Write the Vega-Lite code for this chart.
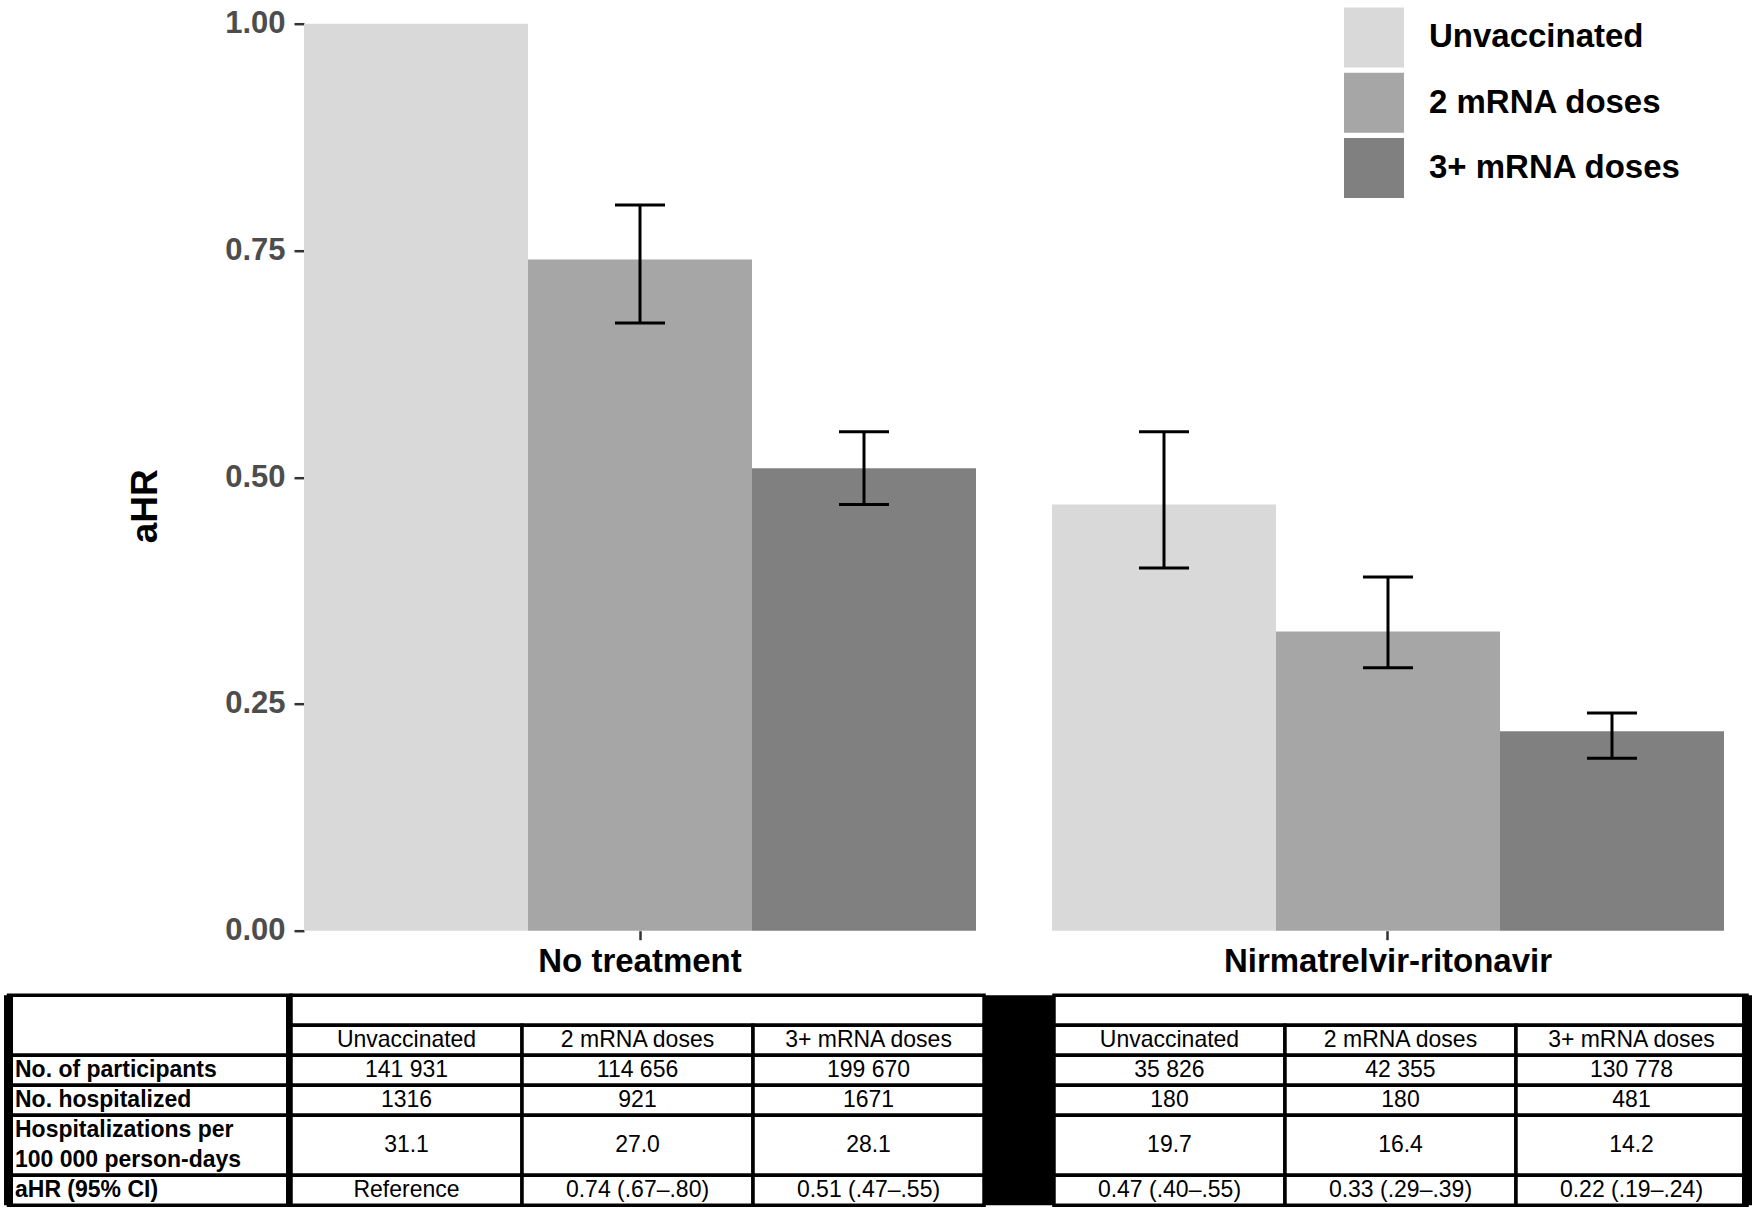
{
  "$schema": "https://vega.github.io/schema/vega-lite/v6.json",
  "padding": {"left": 4, "top": 6.7, "right": 0, "bottom": 0},
  "bounds": "flush",
  "spacing": 64.5,
  "resolve": {"scale": {"xOffset": "independent", "color": "independent"}},
  "config": {
    "view": {"stroke": null},
    "font": "Liberation Sans"
  },
  "datasets": {
    "bars": [
      {"treatment": "No treatment", "vacc": "Unvaccinated", "ahr": 1.0, "lo": null, "hi": null},
      {"treatment": "No treatment", "vacc": "2 mRNA doses", "ahr": 0.74, "lo": 0.67, "hi": 0.80},
      {"treatment": "No treatment", "vacc": "3+ mRNA doses", "ahr": 0.51, "lo": 0.47, "hi": 0.55},
      {"treatment": "Nirmatrelvir-ritonavir", "vacc": "Unvaccinated", "ahr": 0.47, "lo": 0.40, "hi": 0.55},
      {"treatment": "Nirmatrelvir-ritonavir", "vacc": "2 mRNA doses", "ahr": 0.33, "lo": 0.29, "hi": 0.39},
      {"treatment": "Nirmatrelvir-ritonavir", "vacc": "3+ mRNA doses", "ahr": 0.22, "lo": 0.19, "hi": 0.24}
    ],
    "heads": [
      {"grp": "No treatment", "ys": "hdr", "ye": "hdr"},
      {"grp": "Nirmatrelvir-ritonavir", "ys": "hdr", "ye": "hdr"}
    ],
    "cells": [
      {"grp": "No treatment", "vacc": "Unvaccinated", "ys": "sub", "ye": "sub", "t": "Unvaccinated"},
      {"grp": "No treatment", "vacc": "2 mRNA doses", "ys": "sub", "ye": "sub", "t": "2 mRNA doses"},
      {"grp": "No treatment", "vacc": "3+ mRNA doses", "ys": "sub", "ye": "sub", "t": "3+ mRNA doses"},
      {"grp": "No treatment", "vacc": "Unvaccinated", "ys": "part", "ye": "part", "t": "141 931"},
      {"grp": "No treatment", "vacc": "2 mRNA doses", "ys": "part", "ye": "part", "t": "114 656"},
      {"grp": "No treatment", "vacc": "3+ mRNA doses", "ys": "part", "ye": "part", "t": "199 670"},
      {"grp": "No treatment", "vacc": "Unvaccinated", "ys": "hospn", "ye": "hospn", "t": "1316"},
      {"grp": "No treatment", "vacc": "2 mRNA doses", "ys": "hospn", "ye": "hospn", "t": "921"},
      {"grp": "No treatment", "vacc": "3+ mRNA doses", "ys": "hospn", "ye": "hospn", "t": "1671"},
      {"grp": "No treatment", "vacc": "Unvaccinated", "ys": "hA", "ye": "hB", "t": "31.1"},
      {"grp": "No treatment", "vacc": "2 mRNA doses", "ys": "hA", "ye": "hB", "t": "27.0"},
      {"grp": "No treatment", "vacc": "3+ mRNA doses", "ys": "hA", "ye": "hB", "t": "28.1"},
      {"grp": "No treatment", "vacc": "Unvaccinated", "ys": "ahr", "ye": "ahr", "t": "Reference"},
      {"grp": "No treatment", "vacc": "2 mRNA doses", "ys": "ahr", "ye": "ahr", "t": "0.74 (.67–.80)"},
      {"grp": "No treatment", "vacc": "3+ mRNA doses", "ys": "ahr", "ye": "ahr", "t": "0.51 (.47–.55)"},
      {"grp": "Nirmatrelvir-ritonavir", "vacc": "Unvaccinated", "ys": "sub", "ye": "sub", "t": "Unvaccinated"},
      {"grp": "Nirmatrelvir-ritonavir", "vacc": "2 mRNA doses", "ys": "sub", "ye": "sub", "t": "2 mRNA doses"},
      {"grp": "Nirmatrelvir-ritonavir", "vacc": "3+ mRNA doses", "ys": "sub", "ye": "sub", "t": "3+ mRNA doses"},
      {"grp": "Nirmatrelvir-ritonavir", "vacc": "Unvaccinated", "ys": "part", "ye": "part", "t": "35 826"},
      {"grp": "Nirmatrelvir-ritonavir", "vacc": "2 mRNA doses", "ys": "part", "ye": "part", "t": "42 355"},
      {"grp": "Nirmatrelvir-ritonavir", "vacc": "3+ mRNA doses", "ys": "part", "ye": "part", "t": "130 778"},
      {"grp": "Nirmatrelvir-ritonavir", "vacc": "Unvaccinated", "ys": "hospn", "ye": "hospn", "t": "180"},
      {"grp": "Nirmatrelvir-ritonavir", "vacc": "2 mRNA doses", "ys": "hospn", "ye": "hospn", "t": "180"},
      {"grp": "Nirmatrelvir-ritonavir", "vacc": "3+ mRNA doses", "ys": "hospn", "ye": "hospn", "t": "481"},
      {"grp": "Nirmatrelvir-ritonavir", "vacc": "Unvaccinated", "ys": "hA", "ye": "hB", "t": "19.7"},
      {"grp": "Nirmatrelvir-ritonavir", "vacc": "2 mRNA doses", "ys": "hA", "ye": "hB", "t": "16.4"},
      {"grp": "Nirmatrelvir-ritonavir", "vacc": "3+ mRNA doses", "ys": "hA", "ye": "hB", "t": "14.2"},
      {"grp": "Nirmatrelvir-ritonavir", "vacc": "Unvaccinated", "ys": "ahr", "ye": "ahr", "t": "0.47 (.40–.55)"},
      {"grp": "Nirmatrelvir-ritonavir", "vacc": "2 mRNA doses", "ys": "ahr", "ye": "ahr", "t": "0.33 (.29–.39)"},
      {"grp": "Nirmatrelvir-ritonavir", "vacc": "3+ mRNA doses", "ys": "ahr", "ye": "ahr", "t": "0.22 (.19–.24)"}
    ],
    "labcells": [
      {"ys": "hdr", "ye": "sub"},
      {"ys": "part", "ye": "part"},
      {"ys": "hospn", "ye": "hospn"},
      {"ys": "hA", "ye": "hB"},
      {"ys": "ahr", "ye": "ahr"}
    ],
    "labels": [
      {"ys": "part", "t": "No. of participants"},
      {"ys": "hospn", "t": "No. hospitalized"},
      {"ys": "hA", "t": "Hospitalizations per"},
      {"ys": "hB", "t": "100 000 person-days"},
      {"ys": "ahr", "t": "aHR (95% CI)"}
    ]
  },
  "vconcat": [
    {
      "data": {"name": "bars"},
      "width": 1433,
      "height": 907,
      "encoding": {
        "x": {
          "field": "treatment", "type": "nominal",
          "scale": {"domain": ["No treatment", "Nirmatrelvir-ritonavir"], "paddingInner": 0.1016, "paddingOuter": 0.00869, "align": 1},
          "axis": {"title": null, "labelAngle": 0, "labelFontSize": 33, "labelFontWeight": "bold", "labelColor": "black", "labelPadding": 6, "labelLimit": 800, "tickSize": 9, "tickWidth": 2.5, "tickColor": "#333333", "domain": false}
        },
        "xOffset": {
          "field": "vacc", "type": "nominal",
          "scale": {"domain": ["Unvaccinated", "2 mRNA doses", "3+ mRNA doses"], "paddingInner": 0, "paddingOuter": 0}
        }
      },
      "layer": [
        {
          "mark": {"type": "bar"},
          "encoding": {
            "y": {
              "field": "ahr", "type": "quantitative", "title": "aHR",
              "scale": {"domain": [0, 1], "nice": false},
              "axis": {"values": [0, 0.25, 0.5, 0.75, 1], "format": ".2f", "grid": false, "domain": false, "tickSize": 10, "tickWidth": 2.5, "tickColor": "#333333", "labelFontSize": 31, "labelFontWeight": "bold", "labelColor": "#4d4d4d", "labelPadding": 9, "offset": -13, "titleFontSize": 37, "titleFontWeight": "bold", "titleColor": "black", "titlePadding": 60, "titleY": 482}
            },
            "color": {
              "field": "vacc", "type": "nominal",
              "scale": {"domain": ["Unvaccinated", "2 mRNA doses", "3+ mRNA doses"], "range": ["#d9d9d9", "#a6a6a6", "#808080"]},
              "legend": {"title": null, "orient": "none", "legendX": 1053, "legendY": -16.3, "symbolType": "square", "symbolSize": 3600, "symbolStrokeWidth": 0, "labelFontSize": 33, "labelFontWeight": "bold", "labelColor": "black", "labelOffset": 25, "labelLimit": 800, "rowPadding": 5.3, "padding": 0}
            }
          }
        },
        {
          "transform": [{"filter": "datum.lo != null"}],
          "mark": {"type": "rule", "color": "black", "strokeWidth": 3},
          "encoding": {
            "y": {"field": "lo", "type": "quantitative", "title": "aHR"},
            "y2": {"field": "hi"}
          }
        },
        {
          "transform": [{"filter": "datum.lo != null"}],
          "mark": {"type": "tick", "color": "black", "thickness": 3, "size": 50, "opacity": 1},
          "encoding": {
            "y": {"field": "lo", "type": "quantitative", "title": "aHR"}
          }
        },
        {
          "transform": [{"filter": "datum.hi != null"}],
          "mark": {"type": "tick", "color": "black", "thickness": 3, "size": 50, "opacity": 1},
          "encoding": {
            "y": {"field": "hi", "type": "quantitative", "title": "aHR"}
          }
        }
      ]
    },
    {
      "width": 1456,
      "height": 210,
      "view": {"fill": "black", "stroke": null},
      "resolve": {"scale": {"x": "independent"}},
      "layer": [
        {
          "layer": [
            {
              "data": {"name": "labcells"},
              "mark": {"type": "rect", "fill": "white", "stroke": "black", "strokeWidth": 3.5},
              "encoding": {
                "x": {"datum": "lab", "type": "nominal", "scale": {"domain": ["lab"], "range": [-282.5, 0], "paddingInner": 0, "paddingOuter": 0}, "axis": null},
                "y": {"field": "ys", "type": "nominal", "bandPosition": 0, "scale": {"domain": ["hdr", "sub", "part", "hospn", "hA", "hB", "ahr"], "paddingInner": 0, "paddingOuter": 0}, "axis": null},
                "y2": {"field": "ye", "bandPosition": 1}
              }
            },
            {
              "data": {"name": "labels"},
              "mark": {"type": "text", "align": "left", "baseline": "middle", "dx": 6.5, "fontSize": 23, "fontWeight": "bold", "color": "black"},
              "encoding": {
                "x": {"datum": "lab", "type": "nominal", "bandPosition": 0},
                "y": {"field": "ys", "type": "nominal"},
                "text": {"field": "t"}
              }
            },
            {
              "data": {"values": [{"side": 0}]},
              "mark": {"type": "rule", "color": "black", "strokeWidth": 9},
              "encoding": {
                "x": {"datum": "lab", "type": "nominal", "bandPosition": 0},
                "y": {"datum": "hdr", "type": "nominal", "bandPosition": 0},
                "y2": {"datum": "ahr", "bandPosition": 1}
              }
            },
            {
              "data": {"values": [{"side": 1}]},
              "mark": {"type": "rule", "color": "black", "strokeWidth": 10},
              "encoding": {
                "x": {"datum": "lab", "type": "nominal", "bandPosition": 1},
                "y": {"datum": "hdr", "type": "nominal", "bandPosition": 0},
                "y2": {"datum": "ahr", "bandPosition": 1}
              }
            }
          ]
        },
        {
          "layer": [
            {
              "data": {"name": "heads"},
              "mark": {"type": "rect", "fill": "white", "stroke": "black", "strokeWidth": 3.5},
              "encoding": {
                "x": {"field": "grp", "type": "nominal", "scale": {"domain": ["No treatment", "Nirmatrelvir-ritonavir"], "paddingInner": 0.0917, "paddingOuter": 0}, "axis": null},
                "y": {"field": "ys", "type": "nominal", "bandPosition": 0},
                "y2": {"field": "ye", "bandPosition": 1}
              }
            },
            {
              "data": {"name": "cells"},
              "mark": {"type": "rect", "fill": "white", "stroke": "black", "strokeWidth": 3.5},
              "encoding": {
                "x": {"field": "grp", "type": "nominal"},
                "xOffset": {"field": "vacc", "type": "nominal", "scale": {"domain": ["Unvaccinated", "2 mRNA doses", "3+ mRNA doses"], "paddingInner": 0, "paddingOuter": 0}},
                "y": {"field": "ys", "type": "nominal", "bandPosition": 0},
                "y2": {"field": "ye", "bandPosition": 1}
              }
            },
            {
              "data": {"name": "cells"},
              "transform": [{"filter": "datum.ys != 'hA'"}],
              "mark": {"type": "text", "align": "center", "baseline": "middle", "fontSize": 23, "color": "black"},
              "encoding": {
                "x": {"field": "grp", "type": "nominal"},
                "xOffset": {"field": "vacc", "type": "nominal"},
                "y": {"field": "ys", "type": "nominal"},
                "text": {"field": "t"}
              }
            },
            {
              "data": {"name": "cells"},
              "transform": [{"filter": "datum.ys == 'hA'"}],
              "mark": {"type": "text", "align": "center", "baseline": "middle", "fontSize": 23, "color": "black"},
              "encoding": {
                "x": {"field": "grp", "type": "nominal"},
                "xOffset": {"field": "vacc", "type": "nominal"},
                "y": {"field": "ys", "type": "nominal", "bandPosition": 1},
                "text": {"field": "t"}
              }
            },
            {
              "data": {"values": [{"side": 2}]},
              "mark": {"type": "rule", "color": "black", "strokeWidth": 10},
              "encoding": {
                "x": {"datum": "Nirmatrelvir-ritonavir", "type": "nominal", "bandPosition": 1},
                "y": {"datum": "hdr", "type": "nominal", "bandPosition": 0},
                "y2": {"datum": "ahr", "bandPosition": 1}
              }
            }
          ]
        }
      ]
    }
  ]
}
